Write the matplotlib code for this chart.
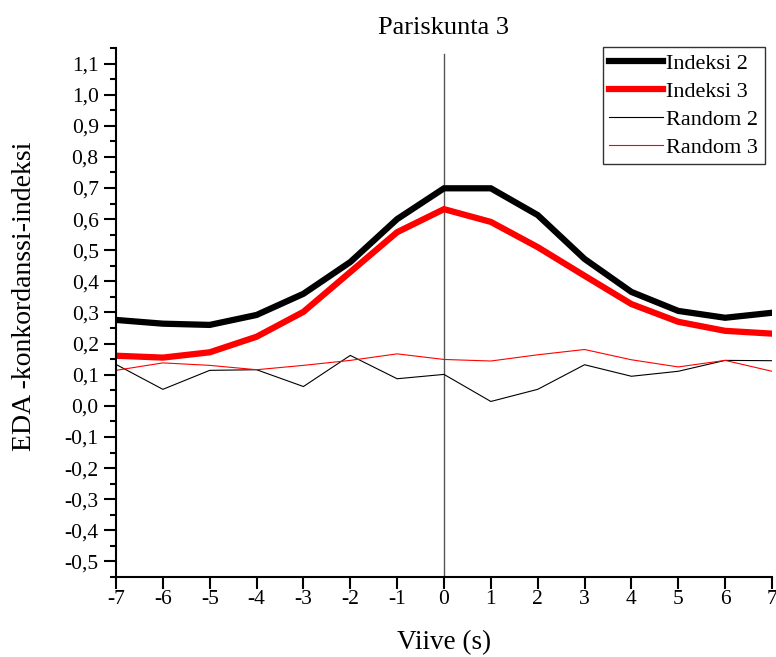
"""EDA concordance index vs. lag, couple 3."""

import matplotlib
matplotlib.use("Agg")
import matplotlib.pyplot as plt
from matplotlib.ticker import FixedLocator, MultipleLocator, FuncFormatter

# ── Data ─────────────────────────────────────────────────────────────────

lags = [-7, -6, -5, -4, -3, -2, -1, 0, 1, 2, 3, 4, 5, 6, 7]

indeksi_2 = [0.276, 0.264, 0.260, 0.292, 0.360, 0.462, 0.600, 0.699,
             0.699, 0.613, 0.472, 0.366, 0.305, 0.283, 0.299]
indeksi_3 = [0.161, 0.155, 0.172, 0.222, 0.302, 0.430, 0.558, 0.632,
             0.591, 0.510, 0.418, 0.327, 0.270, 0.241, 0.232]
random_2 = [0.133, 0.053, 0.114, 0.116, 0.062, 0.162, 0.087, 0.101,
            0.014, 0.053, 0.132, 0.095, 0.111, 0.146, 0.145]
random_3 = [0.114, 0.138, 0.130, 0.116, 0.130, 0.146, 0.167, 0.149,
            0.144, 0.164, 0.181, 0.148, 0.125, 0.146, 0.111]

y_ticks = [-0.5, -0.4, -0.3, -0.2, -0.1, 0.0, 0.1, 0.2, 0.3, 0.4, 0.5,
           0.6, 0.7, 0.8, 0.9, 1.0, 1.1]

# ── Style ────────────────────────────────────────────────────────────────

plt.rcParams["font.family"] = ["Liberation Serif", "DejaVu Serif"]
plt.rcParams["axes.unicode_minus"] = False

THICK = 4.5
THIN = 0.8
SPINE_W = 1.5

fig = plt.figure(figsize=(7.76, 6.57), dpi=100)
ax = fig.add_axes([0.1495, 0.1218, 0.8453, 0.8052])

ax.plot(lags, indeksi_2, color="black", lw=THICK, label="Indeksi 2",
        solid_joinstyle="miter")
ax.plot(lags, indeksi_3, color="#ff0000", lw=THICK, label="Indeksi 3",
        solid_joinstyle="miter")
ax.plot(lags, random_2, color="black", lw=THIN, label="Random 2")
ax.plot(lags, random_3, color="#ff0000", lw=THIN, label="Random 3")

ax.axvline(0, ymin=0, ymax=0.988, color="#555555", lw=1.0, zorder=1)

ax.set_xlim(-7, 7)
ax.set_ylim(-0.55, 1.15)

ax.xaxis.set_major_locator(MultipleLocator(1))
ax.yaxis.set_major_locator(FixedLocator(y_ticks))
ax.yaxis.set_minor_locator(MultipleLocator(0.05))
ax.yaxis.set_major_formatter(
    FuncFormatter(lambda v, _: f"{v:.1f}".replace(".", ",").replace("-0,0", "0,0")))

for side in ("top", "right"):
    ax.spines[side].set_visible(False)
for side in ("left", "bottom"):
    ax.spines[side].set_linewidth(SPINE_W)

ax.tick_params(axis="both", which="major", direction="out", length=8.5,
               width=SPINE_W, labelsize=15.5, colors="black")
ax.tick_params(axis="y", which="major", pad=4)
ax.tick_params(axis="x", which="major", pad=1)
ax.tick_params(axis="y", which="minor", direction="out", length=4.5,
               width=SPINE_W)

ax.set_title("Pariskunta 3", fontsize=19, pad=10)
ax.set_xlabel("Viive (s)", fontsize=19.5, labelpad=15)
ax.set_ylabel("EDA -konkordanssi-indeksi", fontsize=20)
ax.yaxis.set_label_coords(-0.121, 0.53)

leg = ax.legend(loc="upper right", bbox_to_anchor=(0.989, 1.002),
                fontsize=16, frameon=True, fancybox=False,
                edgecolor="black", handlelength=2.4, handletextpad=0.15,
                borderpad=0.3, labelspacing=0.33, borderaxespad=0)
leg.get_frame().set_linewidth(1.0)

fig.savefig("out.png", dpi=100)
